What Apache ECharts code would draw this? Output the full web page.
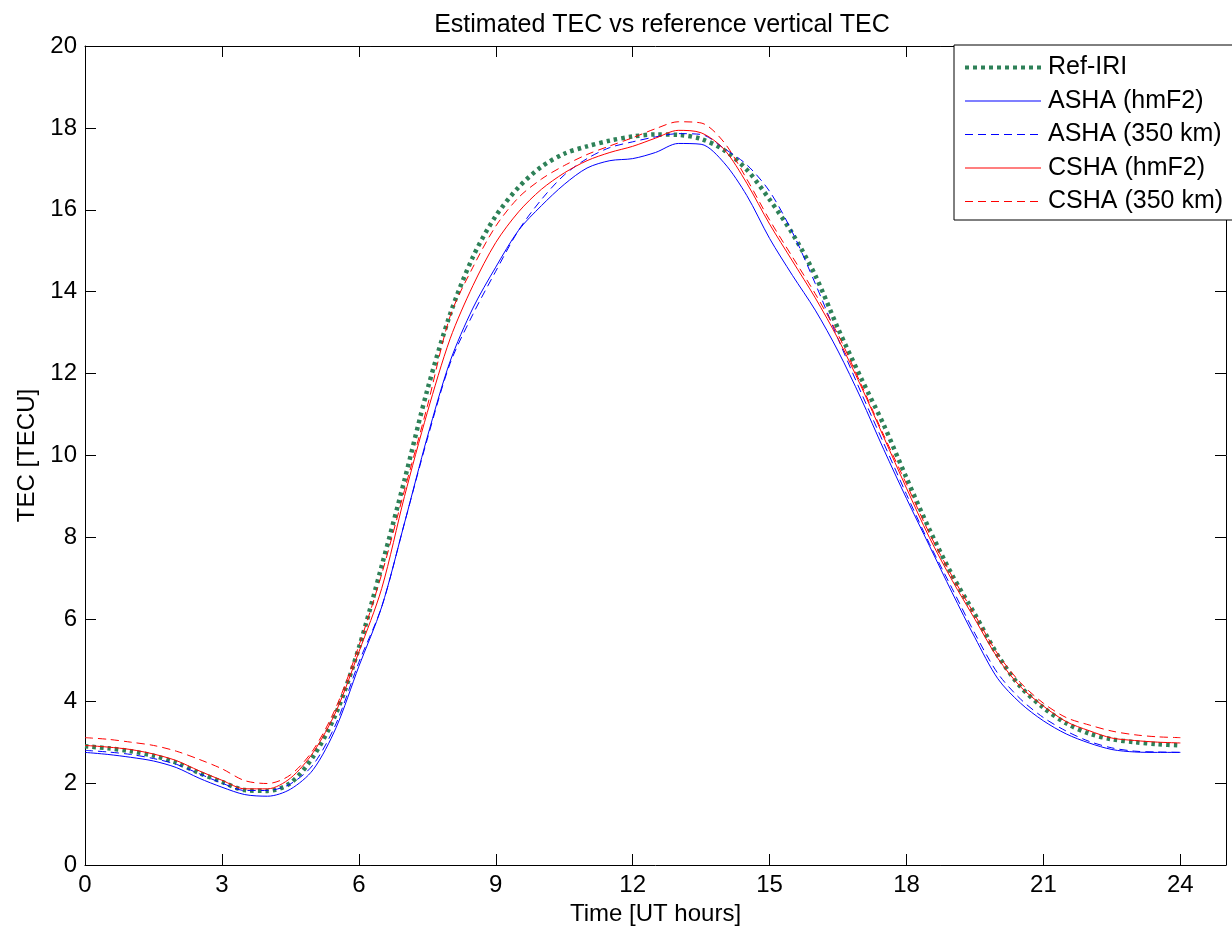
<!DOCTYPE html>
<html>
<head>
<meta charset="utf-8">
<title>Estimated TEC vs reference vertical TEC</title>
<script src="https://cdn.jsdelivr.net/npm/echarts@6/dist/echarts.min.js"></script>
<style>
  html, body { margin: 0; padding: 0; background: #fff; }
  #main { width: 1232px; height: 932px; }
</style>
</head>
<body>
<div id="main"></div>
<script>
// time axis, half-hour steps
var hours = [];
for (var i = 0; i <= 48; i++) hours.push(i / 2);

// values (TECU)
var refIri = [2.90, 2.85, 2.78, 2.67, 2.50, 2.25, 2.03, 1.83, 1.81, 2.00, 2.65, 3.70, 5.30,
  7.30, 9.40, 11.60, 13.45, 14.85, 15.85, 16.55, 17.05, 17.37, 17.55, 17.69, 17.79,
  17.84, 17.83, 17.73, 17.46, 16.98, 16.25, 15.42, 14.40, 13.10, 11.90, 10.75, 9.45,
  8.20, 7.08, 6.12, 5.12, 4.35, 3.84, 3.46, 3.21, 3.07, 3.00, 2.95, 2.92];
var ashaHmf2 = [2.75, 2.70, 2.63, 2.54, 2.38, 2.12, 1.90, 1.72, 1.68, 1.85, 2.33, 3.35, 4.85,
  6.30, 8.35, 10.45, 12.30, 13.60, 14.60, 15.50, 16.10, 16.62, 17.02, 17.20, 17.25,
  17.40, 17.62, 17.60, 17.15, 16.35, 15.30, 14.40, 13.55, 12.55, 11.40, 10.15, 8.95,
  7.80, 6.65, 5.55, 4.55, 3.95, 3.52, 3.20, 2.98, 2.82, 2.76, 2.75, 2.75];
var asha350 = [2.80, 2.76, 2.70, 2.60, 2.46, 2.23, 2.00, 1.82, 1.82, 1.98, 2.45, 3.45, 4.95,
  6.30, 8.35, 10.40, 12.25, 13.45, 14.50, 15.50, 16.25, 16.85, 17.25, 17.52, 17.66,
  17.78, 17.86, 17.84, 17.50, 17.10, 16.45, 15.45, 14.20, 12.85, 11.55, 10.30, 9.05,
  7.85, 6.75, 5.65, 4.68, 4.05, 3.60, 3.27, 3.02, 2.86, 2.78, 2.76, 2.75];
var cshaHmf2 = [2.92, 2.88, 2.82, 2.71, 2.55, 2.30, 2.07, 1.86, 1.86, 2.12, 2.75, 3.75, 5.20,
  6.75, 9.00, 11.05, 12.85, 14.15, 15.20, 15.95, 16.50, 16.90, 17.20, 17.40, 17.55,
  17.75, 17.94, 17.88, 17.48, 16.65, 15.65, 14.75, 13.85, 12.85, 11.70, 10.45, 9.20,
  8.00, 6.95, 6.00, 5.05, 4.35, 3.88, 3.50, 3.28, 3.10, 3.04, 3.00, 2.98];
var csha350 = [3.11, 3.07, 3.00, 2.92, 2.78, 2.58, 2.35, 2.06, 1.99, 2.20, 2.81, 3.85, 5.35,
  7.10, 9.15, 11.20, 13.40, 14.60, 15.60, 16.30, 16.75, 17.08, 17.35, 17.56, 17.76,
  17.98, 18.15, 18.12, 17.65, 16.75, 15.75, 14.85, 13.95, 12.95, 11.75, 10.50, 9.30,
  8.10, 7.05, 6.10, 5.15, 4.45, 3.95, 3.60, 3.42, 3.27, 3.18, 3.13, 3.11];

function pairs(vals) {
  return hours.map(function (h, i) { return [h, vals[i]]; });
}

var font = 'Liberation Sans, Arial, sans-serif';

var names = ['Ref-IRI', 'ASHA (hmF2)', 'ASHA (350 km)', 'CSHA (hmF2)', 'CSHA (350 km)'];
var values = [refIri, ashaHmf2, asha350, cshaHmf2, csha350];
var colors = ['#2e8158', '#0000ff', '#0000ff', '#ff0000', '#ff0000'];
var widths = [4.5, 1, 1, 1, 1];
var dashes = [[3.5, 4], 'solid', [8, 5], 'solid', [8, 5]];

// legend icons drawn as filled paths in a 76x14 box (dash pattern, dot pattern, solid)
var ICON_W = 76, ICON_H = 14;
function iconPath(kind) {
  var p = 'path://M0,0L0.01,0L0,0.01Z M76,14L75.99,14L76,13.99Z';
  if (kind === 'dot') {
    for (var x = 0; x + 4 <= ICON_W; x += 8) p += ' M' + x + ',5H' + (x + 4) + 'V9H' + x + 'Z';
  } else if (kind === 'dash') {
    for (var d = 0; d < ICON_W; d += 13) p += ' M' + d + ',6.5H' + Math.min(d + 8, ICON_W) + 'V7.5H' + d + 'Z';
  } else {
    p += ' M0,6.5H76V7.5H0Z';
  }
  return p;
}
var iconKinds = ['dot', 'solid', 'dash', 'solid', 'dash'];

var series = names.map(function (n, i) {
  return {
    name: n,
    type: 'line',
    data: pairs(values[i]),
    symbol: 'none',
    smooth: 0.3,
    silent: true,
    lineStyle: { color: colors[i], width: widths[i], type: dashes[i] },
    itemStyle: { color: colors[i] }
  };
});

var legendData = names.map(function (n, i) {
  return { name: n, icon: iconPath(iconKinds[i]), itemStyle: { color: colors[i] } };
});

function frameAxis(extra) {
  var a = {
    type: 'value',
    axisLine: { show: true, onZero: false, lineStyle: { color: '#000', width: 1 } },
    axisTick: { show: true, inside: true, length: 11, lineStyle: { color: '#000' } },
    splitLine: { show: false }
  };
  for (var k in extra) a[k] = extra[k];
  return a;
}

var chart = echarts.init(document.getElementById('main'));
chart.setOption({
  backgroundColor: '#fff',
  animation: false,
  title: {
    text: 'Estimated TEC vs reference vertical TEC',
    left: 657, textAlign: 'center', top: 8,
    textStyle: { fontFamily: font, fontSize: 25, fontWeight: 'normal', color: '#000' }
  },
  grid: { left: 85, right: 6, top: 46, bottom: 67 },
  legend: {
    orient: 'vertical',
    left: 954, top: 45,
    padding: [10, 13, 6, 11],
    itemWidth: ICON_W, itemHeight: ICON_H,
    itemGap: 8.5,
    backgroundColor: '#fff',
    borderColor: '#000', borderWidth: 1,
    textStyle: { fontFamily: font, fontSize: 25, color: '#000', padding: [0, 0, 0, 2] },
    data: legendData
  },
  xAxis: [
    frameAxis({
      min: 0, max: 25, interval: 3,
      name: 'Time [UT hours]', nameLocation: 'middle', nameGap: 37,
      nameTextStyle: { fontFamily: font, fontSize: 24, color: '#000' },
      axisLabel: { showMaxLabel: false, fontFamily: font, fontSize: 24, color: '#000', margin: 8 }
    }),
    frameAxis({ min: 0, max: 25, interval: 3, position: 'top', axisLabel: { show: false } })
  ],
  yAxis: [
    frameAxis({
      min: 0, max: 20, interval: 2,
      name: 'TEC [TECU]', nameLocation: 'middle', nameGap: 44,
      nameTextStyle: { fontFamily: font, fontSize: 24, color: '#000' },
      axisLabel: { fontFamily: font, fontSize: 24, color: '#000', margin: 8 }
    }),
    frameAxis({ min: 0, max: 20, interval: 2, position: 'right', axisLabel: { show: false } })
  ],
  series: series
});
</script>
</body>
</html>
